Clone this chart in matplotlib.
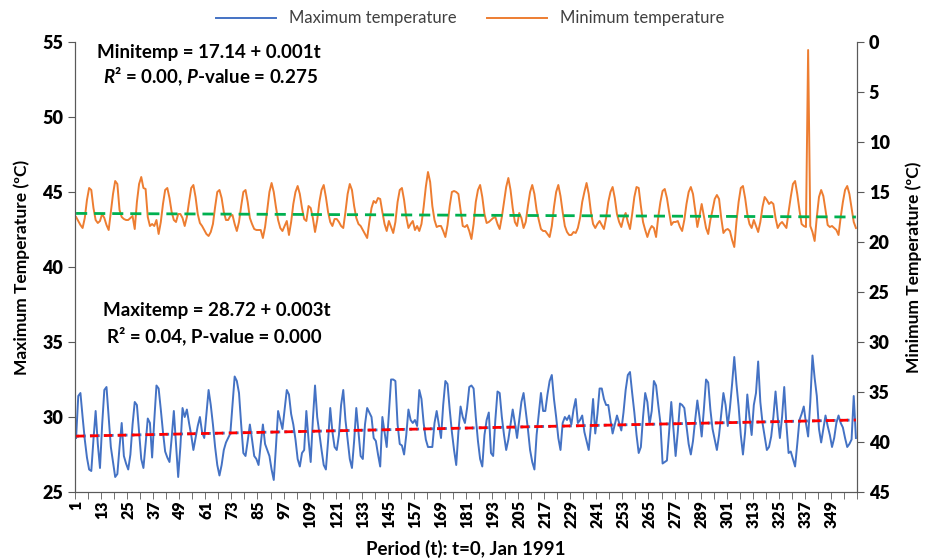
import numpy as np
import matplotlib
matplotlib.use("Agg")
import matplotlib.pyplot as plt

# monthly series, t = 1 (Jan 1991) ... 360, one row per year
max_temp = [
    28.6, 31.4, 31.6, 30.0, 28.5, 27.3, 26.5, 26.4, 28.5, 30.4, 28.2, 26.6,
    29.5, 31.8, 32.0, 30.0, 28.0, 27.0, 26.0, 26.2, 28.0, 29.6, 27.4, 26.9,
    26.5, 27.5, 29.5, 31.0, 30.8, 29.0, 27.2, 26.6, 28.2, 29.9, 29.6, 27.3,
    29.8, 32.1, 31.9, 30.5, 29.0, 27.7, 27.3, 27.0, 28.6, 30.4, 28.2, 26.0,
    28.0, 30.6, 30.0, 30.5, 29.6, 28.8, 27.8, 28.6, 29.4, 30.0, 29.0, 28.6,
    30.2, 31.8, 30.8, 29.5, 28.0, 26.8, 26.1, 26.8, 27.8, 28.3, 28.6, 28.9,
    30.8, 32.7, 32.4, 31.6, 29.5, 27.6, 27.4, 28.4, 29.5, 28.5, 27.4, 27.2,
    26.8, 28.2, 29.5, 28.2, 27.8, 27.4, 26.5, 25.8, 28.0, 30.4, 29.8, 29.2,
    30.5, 31.8, 31.5, 30.2, 29.5, 28.5, 27.2, 26.7, 27.6, 27.8, 30.4, 28.5,
    27.0, 29.8, 32.1, 30.0, 28.9, 27.8, 26.8, 26.5, 28.4, 30.6, 29.0, 28.0,
    27.8, 28.8, 30.8, 31.8, 29.8, 28.5, 27.2, 26.6, 28.4, 30.6, 29.0, 27.4,
    27.2, 29.5, 30.6, 30.3, 30.0, 28.6, 28.4, 27.5, 26.7, 30.0, 29.0, 28.0,
    30.2, 32.5, 32.5, 32.4, 29.5, 28.2, 28.1, 27.5, 28.8, 30.5, 29.8, 29.6,
    29.8, 29.4, 31.8, 31.2, 29.6, 28.5, 28.0, 28.0, 28.0, 29.6, 30.4, 29.5,
    28.6, 30.8, 32.4, 32.2, 30.5, 29.0, 27.8, 26.8, 29.0, 30.7, 30.0, 29.6,
    30.6, 32.0, 32.1, 31.9, 30.0, 28.4, 27.2, 26.7, 28.8, 29.8, 30.3, 27.6,
    27.4, 29.8, 31.7, 31.6, 30.0, 28.8, 27.8, 28.5, 29.5, 30.5, 29.6, 28.6,
    29.8, 31.0, 31.6, 30.4, 29.2, 27.8, 27.0, 26.5, 28.8, 30.2, 31.6, 30.4,
    30.4, 31.5, 32.4, 32.8, 31.2, 30.0, 28.6, 27.8, 29.6, 30.0, 29.8, 30.1,
    29.5, 30.5, 31.2, 29.6, 29.8, 30.1, 29.0, 28.4, 27.8, 29.4, 31.2, 28.9,
    30.2, 31.9, 31.9, 31.2, 30.8, 30.8, 29.8, 28.9, 29.5, 30.1, 29.6, 29.1,
    30.3, 31.8, 32.8, 33.0, 31.6, 30.3, 28.8, 27.6, 28.0, 30.0, 31.6, 31.0,
    29.5, 30.4, 32.4, 32.1, 30.8, 29.6, 26.9, 27.0, 27.1, 29.0, 31.0, 29.2,
    27.4, 29.0, 30.9, 30.8, 30.6, 29.4, 28.2, 27.5, 28.4, 29.8, 31.1, 30.0,
    28.7, 30.5, 32.5, 32.3, 30.5, 29.2, 28.5, 27.8, 28.8, 30.2, 31.6, 30.8,
    29.4, 30.6, 32.2, 34.0, 32.2, 30.7, 28.8, 27.5, 29.0, 31.5, 30.0, 28.8,
    30.8, 31.6, 33.7, 31.0, 29.6, 28.7, 27.8, 28.0, 28.7, 30.0, 31.7, 30.0,
    28.6, 30.0, 32.0, 29.5, 27.6, 27.7, 27.2, 26.7, 28.2, 29.8, 30.2, 30.7,
    29.6, 28.7, 31.0, 34.1, 32.6, 31.4, 29.2, 28.3, 29.2, 30.1, 29.4, 28.8,
    28.0, 28.6, 29.6, 30.1, 29.6, 29.3, 28.6, 28.0, 28.2, 28.5, 31.4, 28.6,
]

min_temp = [
    17.5, 17.9, 18.3, 18.6, 17.6, 15.8, 14.6, 14.8, 16.6, 17.8, 18.1, 17.9,
    17.2, 17.6, 18.3, 18.8, 17.0, 15.2, 13.9, 14.2, 16.8, 17.5, 17.7, 17.8,
    17.8, 17.6, 17.4, 18.7, 16.0, 14.2, 13.5, 14.6, 14.7, 17.5, 18.4, 18.2,
    18.4, 17.8, 19.2, 18.0, 16.2, 14.8, 14.6, 15.6, 17.0, 17.8, 18.0, 17.2,
    17.2, 17.6, 18.4, 17.5, 16.0, 14.6, 14.3, 15.5, 17.2, 18.1, 18.4, 18.8,
    19.2, 19.4, 19.0, 18.2, 16.5, 15.0, 14.8, 15.6, 17.0, 17.8, 17.8, 17.4,
    17.3, 18.2, 18.9, 18.0, 16.4, 15.0, 14.8, 16.0, 17.6, 18.2, 18.7, 18.8,
    18.8, 18.8, 19.6, 18.5, 16.8, 15.0, 14.1, 15.0, 16.5, 17.8, 18.6, 18.9,
    18.4, 17.9, 19.3, 18.0, 16.2, 15.0, 14.4, 15.2, 16.6, 17.7, 17.9, 16.4,
    16.6, 17.6, 19.0, 17.8, 16.0, 14.8, 14.3, 15.5, 17.0, 18.0, 18.4, 17.7,
    17.7, 18.0, 18.4, 18.6, 17.0, 15.2, 14.2, 14.8, 16.4, 17.6, 18.2, 18.4,
    18.8, 19.2, 19.6, 18.0, 16.6, 15.9, 16.1, 15.6, 15.7, 17.0, 18.2, 18.9,
    17.9, 18.5, 19.1, 18.0, 16.0, 14.8, 14.6, 15.8, 17.5, 18.6, 18.2, 17.9,
    18.8, 18.4, 18.9, 18.2, 16.5, 14.5, 13.0, 14.0, 16.4, 17.8, 18.5, 18.4,
    18.4, 18.9, 19.5, 18.3, 16.4, 15.0, 14.9, 15.0, 15.2, 16.8, 18.4, 18.5,
    18.3, 18.9, 19.7, 18.2, 16.0, 14.8, 14.3, 15.5, 17.2, 18.1, 18.0, 17.8,
    17.6, 17.5, 18.2, 18.7, 17.5, 16.0, 14.5, 13.6, 14.8, 16.6, 18.0, 18.4,
    17.1, 17.6, 18.6, 18.0, 16.4, 15.0, 14.3, 15.2, 16.8, 17.8, 18.7, 18.9,
    18.9, 19.2, 19.5, 18.4, 16.5, 15.0, 14.3, 15.4, 17.0, 18.4, 19.0, 19.3,
    19.3, 19.0, 19.1, 18.6, 17.6, 16.0, 15.0, 14.1, 15.2, 17.0, 18.2, 18.6,
    18.2, 17.9, 18.3, 18.7, 17.6, 16.0, 15.0, 14.5, 15.6, 17.2, 18.0, 18.5,
    17.6, 17.1, 18.0, 18.7, 17.2, 15.5, 14.5, 14.6, 16.4, 18.0, 18.8, 19.5,
    18.8, 18.4, 18.6, 19.5, 17.5, 16.0, 14.9, 14.7, 15.6, 17.0, 18.3, 18.0,
    18.0, 17.9, 18.5, 18.9, 17.8, 16.2, 15.0, 14.5, 15.2, 16.8, 18.5, 17.4,
    16.2, 17.4, 18.6, 19.2, 17.8, 16.8, 15.7, 15.3, 15.7, 17.6, 19.1, 18.8,
    18.7, 18.9, 19.8, 20.5, 18.0, 16.0, 14.6, 14.4, 15.6, 17.2, 18.2, 18.6,
    17.8, 18.4, 19.0, 18.0, 16.5, 15.5, 15.8, 16.2, 16.0, 16.2, 17.6, 18.6,
    18.2, 18.0, 18.3, 18.6, 17.0, 15.5, 14.2, 13.9, 15.2, 16.8, 18.2, 18.4,
    18.5, 0.8, 18.4, 19.0, 19.9, 17.5, 15.5, 14.8, 15.4, 16.8, 18.3, 18.5,
    18.4, 18.6, 18.8, 19.3, 17.5, 16.0, 14.8, 14.4, 15.2, 16.6, 18.0, 18.6,
]

# fitted trend equations as printed on the chart
max_fit = (0.003, 28.72)
min_fit = (0.001, 17.14)

x_tick_labels = [str(t) for t in range(1, 361, 12)]

plt.rcParams['font.family'] = ['Lato', 'DejaVu Sans']
plt.rcParams['mathtext.fontset'] = 'custom'
plt.rcParams['mathtext.it'] = 'Lato:italic:bold'
plt.rcParams['mathtext.rm'] = 'Lato:bold'

t = np.arange(1, len(max_temp) + 1)

fig = plt.figure(figsize=(9.27, 5.58), dpi=100)
ax = fig.add_axes([75 / 927, 1 - 492 / 558, 782 / 927, 450 / 558])
ax2 = ax.twinx()

l1, = ax.plot(t, max_temp, color='#4472C4', lw=1.4, label='Maximum temperature')
ax.plot(t, np.polyval(max_fit, t), color='#4472C4', lw=2, ls=(0, (1, 1.5)))
ax.plot(t, np.polyval(max_fit, t), color='#FF0000', lw=2, ls=(0, (3, 2)))

l2, = ax2.plot(t, min_temp, color='#ED7D31', lw=1.4, label='Minimum temperature')
ax2.plot(t, np.polyval(min_fit, t), color='#00B050', lw=2, ls=(0, (4, 2.5)))

ax.set_xlim(0.5, 360.5)
ax.set_ylim(25, 55)
ax2.set_ylim(45, 0)
ax.set_yticks(range(25, 56, 5))
ax2.set_yticks(range(0, 46, 5))

ax.set_xticks(range(1, 361, 12))
ax.set_xticklabels(x_tick_labels, rotation=90, fontweight='heavy', fontsize=11.5)
ax.set_xticks(np.arange(0.5, 361, 6), minor=True)
ax.tick_params(axis='x', which='major', length=0, pad=6)
ax.tick_params(axis='x', which='minor', length=5, color='#595959')

for a in (ax, ax2):
    a.tick_params(axis='y', length=5, color='#595959', labelsize=13)
    for lab in a.get_yticklabels():
        lab.set_fontweight('heavy')
    a.spines['top'].set_visible(False)
    for s in ('left', 'right', 'bottom'):
        a.spines[s].set_color('#595959')

ax.set_ylabel('Maximum Temperature (ºC)', fontweight='bold', fontsize=12.5, labelpad=9)
ax2.set_ylabel('Minimum Temperature (ºC)', fontweight='bold', fontsize=12.5, labelpad=11)
ax.set_xlabel('Period (t): t=0, Jan 1991', fontweight='bold', fontsize=13.5, labelpad=8)

ax.text(0.028, 0.976, 'Minitemp = 17.14 + 0.001t', transform=ax.transAxes,
        fontsize=13.5, fontweight='bold', va='center')
ax.text(0.036, 0.922, r'$R$² = 0.00, $P$-value = 0.275', transform=ax.transAxes,
        fontsize=13.5, fontweight='bold', va='center')
ax.text(0.036, 0.404, 'Maxitemp = 28.72 + 0.003t', transform=ax.transAxes,
        fontsize=13.5, fontweight='bold', va='center')
ax.text(0.041, 0.347, 'R² = 0.04, P-value = 0.000', transform=ax.transAxes,
        fontsize=13.5, fontweight='bold', va='center')

fig.legend(handles=[l1, l2], loc='center', bbox_to_anchor=(0.507, 0.967), ncol=2,
           frameon=False, fontsize=12, handlelength=3.6, columnspacing=1.8,
           labelcolor='#404040')

fig.savefig('out.png', dpi=100, facecolor='white')
